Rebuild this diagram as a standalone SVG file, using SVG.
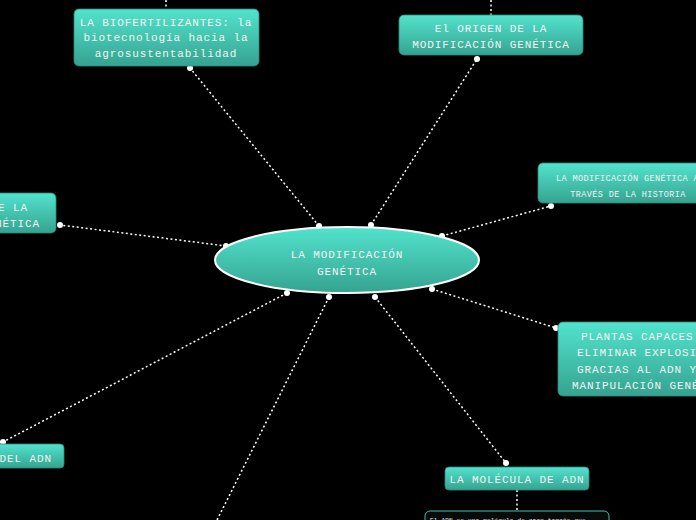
<svg xmlns="http://www.w3.org/2000/svg" width="696" height="520" viewBox="0 0 696 520">
<defs>
<linearGradient id="g" x1="0" y1="0" x2="0" y2="1">
<stop offset="0" stop-color="#52e3cd"/>
<stop offset="1" stop-color="#35a390"/>
</linearGradient>
<style>
.box{fill:url(#g);stroke:#2c8a7a;stroke-width:0.8}
.t{font-family:"Liberation Mono","DejaVu Sans Mono",monospace;font-size:11px;letter-spacing:0.9px;fill:#f4f4f4}
.s{font-size:8.5px;letter-spacing:0.4px}
.c{fill:none;stroke:#ffffff;stroke-width:1.5;stroke-dasharray:2 2.5}
.d{fill:#ffffff}
</style>
</defs>
<rect width="696" height="520" fill="#000000"/>
<g id="connectors">
<line class="c" x1="319" y1="226" x2="190" y2="68"/>
<line class="c" x1="371" y1="225" x2="477" y2="59"/>
<line class="c" x1="442" y1="236" x2="551" y2="206"/>
<line class="c" x1="226" y1="246" x2="60" y2="225"/>
<line class="c" x1="432" y1="289" x2="556" y2="328"/>
<line class="c" x1="287" y1="293" x2="3" y2="442"/>
<line class="c" x1="375" y1="297" x2="506" y2="463"/>
<line class="c" x1="329" y1="297" x2="216" y2="522"/>
<line class="c" x1="166" y1="0" x2="166" y2="9"/>
<line class="c" x1="491" y1="0" x2="491" y2="15"/>
<line class="c" x1="517" y1="490" x2="517" y2="511"/>
<circle class="d" cx="319" cy="226" r="3"/><circle class="d" cx="190" cy="68" r="3"/>
<circle class="d" cx="371" cy="225" r="3"/><circle class="d" cx="477" cy="59" r="3"/>
<circle class="d" cx="442" cy="236" r="3"/><circle class="d" cx="551" cy="206" r="3"/>
<circle class="d" cx="226" cy="246" r="3"/><circle class="d" cx="60" cy="225" r="3"/>
<circle class="d" cx="432" cy="289" r="3"/><circle class="d" cx="556" cy="328" r="3"/>
<circle class="d" cx="287" cy="293" r="3"/><circle class="d" cx="3" cy="442" r="3"/>
<circle class="d" cx="375" cy="297" r="3"/><circle class="d" cx="506" cy="463" r="3"/>
<circle class="d" cx="329" cy="297" r="3"/>
</g>
<g id="center">
<ellipse cx="347" cy="260" rx="132" ry="33" fill="url(#g)" stroke="#ffffff" stroke-width="2"/>
<text class="t" x="347" y="258" text-anchor="middle">LA MODIFICACIÓN</text>
<text class="t" x="347" y="275" text-anchor="middle">GENÉTICA</text>
</g>
<g id="n-biofertilizantes">
<rect class="box" x="74" y="9" width="185" height="57" rx="5"/>
<text class="t" x="166" y="26" text-anchor="middle">LA BIOFERTILIZANTES: la</text>
<text class="t" x="166" y="41" text-anchor="middle">biotecnología hacia la</text>
<text class="t" x="166" y="57" text-anchor="middle">agrosustentabilidad</text>
</g>
<g id="n-origen">
<rect class="box" x="399" y="15" width="184" height="40" rx="5"/>
<text class="t" x="491" y="32" text-anchor="middle">El ORIGEN DE LA</text>
<text class="t" x="491" y="48" text-anchor="middle">MODIFICACIÓN GENÉTICA</text>
</g>
<g id="n-historia">
<rect class="box" x="538" y="163" width="180" height="40" rx="5"/>
<text class="t s" x="556" y="181">LA MODIFICACIÓN GENÉTICA A</text>
<text class="t s" x="628" y="197" text-anchor="middle">TRAVÉS DE LA HISTORIA</text>
</g>
<g id="n-left">
<rect class="box" x="-20" y="193" width="76" height="40" rx="5"/>
<text class="t" x="28" y="211" text-anchor="end">DE LA</text>
<text class="t" x="40" y="227" text-anchor="end">GENÉTICA</text>
</g>
<g id="n-plantas">
<rect class="box" x="558" y="322" width="160" height="74" rx="5"/>
<text class="t" x="581" y="340">PLANTAS CAPACES</text>
<text class="t" x="577" y="356">ELIMINAR EXPLOSI</text>
<text class="t" x="577" y="373">GRACIAS AL ADN Y</text>
<text class="t" x="572" y="389">MANIPULACIÓN GENÉ</text>
</g>
<g id="n-deladn">
<rect class="box" x="-20" y="444" width="84" height="24" rx="4"/>
<text class="t" x="52" y="462" text-anchor="end">DEL ADN</text>
</g>
<g id="n-molecula">
<rect class="box" x="445" y="467" width="144" height="23" rx="4"/>
<text class="t" x="517" y="483" text-anchor="middle">LA MOLÉCULA DE ADN</text>
</g>
<g id="n-texto">
<rect x="425" y="511" width="184" height="30" rx="5" fill="#0a0a0a" stroke="#3fc2ad" stroke-width="1"/>
<text class="t" x="430" y="522" style="font-size:6px;letter-spacing:0.2px">El ADN es una molécula de gran tamaño que</text>
</g>
</svg>
